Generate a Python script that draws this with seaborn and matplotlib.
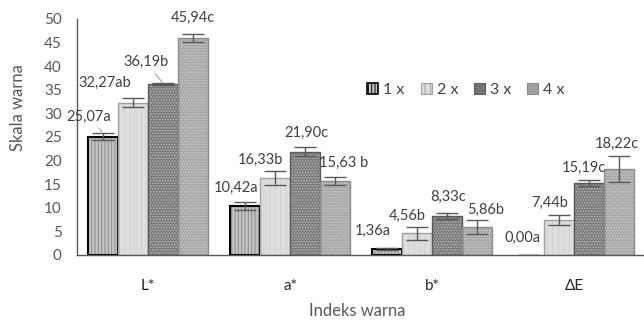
import matplotlib
matplotlib.use("Agg")
import matplotlib.pyplot as plt
from matplotlib.patches import Patch, Rectangle
import seaborn as sns
import pandas as pd
import numpy as np

# Colour indices and repetition levels
categories = ["L*", "a*", "b*", "ΔE"]
series = ["1 x", "2 x", "3 x", "4 x"]

# Mean values per repetition level (one list per level, ordered as categories)
values_1x = [25.07, 10.42, 1.36, 0.00]
values_2x = [32.27, 16.33, 4.56, 7.44]
values_3x = [36.19, 21.90, 8.33, 15.19]
values_4x = [45.94, 15.63, 5.86, 18.22]

# Standard deviations
err_1x = [0.8, 0.9, 0.2, 0.0]
err_2x = [1.0, 1.4, 1.3, 1.1]
err_3x = [0.2, 0.9, 0.6, 0.6]
err_4x = [0.9, 0.8, 1.5, 2.7]

# Data labels with significance letters
labels_1x = ["25,07a", "10,42a", "1,36a", "0,00a"]
labels_2x = ["32,27ab", "16,33b", "4,56b", "7,44b"]
labels_3x = ["36,19b", "21,90c", "8,33c", "15,19c"]
labels_4x = ["45,94c", "15,63 b", "5,86b", "18,22c"]

y_ticks = [0, 5, 10, 15, 20, 25, 30, 35, 40, 45, 50]

all_values = [values_1x, values_2x, values_3x, values_4x]
all_errs = [err_1x, err_2x, err_3x, err_4x]
all_labels = [labels_1x, labels_2x, labels_3x, labels_4x]

df = pd.DataFrame({
    "Indeks": np.tile(categories, len(series)),
    "Ulangan": np.repeat(series, len(categories)),
    "Nilai": np.concatenate(all_values),
})

# Fill / hatch / outline styles for each repetition level
faces = ["#c4c4c4", "#dedede", "#7a7a7a", "#a8a8a8"]
hatches = ["|||||", "|||", "......", "......"]
hatch_cols = ["#8a8a8a", "#cfcfcf", "#bdbdbd", "#cccccc"]
outlines = ["#000000", "#a0a0a0", "#595959", "#8c8c8c"]
outline_w = [1.5, 1.0, 1.0, 1.0]

# Label offsets (pixels) from the top of each error bar
label_offsets = [
    [(-14, 16), (-9, 14), (-14, 17), (-6, 17)],
    [(-28, 15), (-15, 11), (-10, 11), (-9, 12)],
    [(-17, 21), (1, 14), (1, 16), (-5, 13)],
    [(0, 16), (9, 15), (9, 10), (-2, 12)],
]
leader = {(0, 0), (2, 0)}

sns.set_style("white")
plt.rcParams["font.family"] = ["Lato", "DejaVu Sans"]
plt.rcParams["hatch.linewidth"] = 0.7

fig = plt.figure(figsize=(6.44, 3.22), dpi=100)
ax = fig.add_axes([77 / 644, 67 / 322, 568 / 644, 236 / 322])

sns.barplot(data=df, x="Indeks", y="Nilai", hue="Ulangan", order=categories,
            hue_order=series, palette=faces, width=0.845, gap=0,
            errorbar=None, legend=False, ax=ax, saturation=1)

bar_containers = list(ax.containers)
for j, cont in enumerate(bar_containers):
    xs = []
    for p in cont.patches:
        p.set_hatch(hatches[j])
        p.set_edgecolor(hatch_cols[j])
        p.set_linewidth(0)
        if p.get_height() > 0:
            ax.add_patch(Rectangle((p.get_x(), p.get_y()), p.get_width(), p.get_height(),
                                   fill=False, edgecolor=outlines[j],
                                   linewidth=outline_w[j], zorder=p.get_zorder() + 0.1))
        xs.append(p.get_x() + p.get_width() / 2)
    vals = np.array(all_values[j])
    errs = np.array(all_errs[j])
    ax.errorbar(xs, vals, yerr=errs, fmt="none", ecolor="#595959",
                elinewidth=1, capsize=8, capthick=1, zorder=5)
    for i, (x, v, e) in enumerate(zip(xs, vals, errs)):
        dx, dy = label_offsets[j][i]
        kw = {}
        if (j, i) in leader:
            kw["arrowprops"] = dict(arrowstyle="-", color="#a6a6a6", lw=0.8,
                                    shrinkA=1, shrinkB=1)
        ax.annotate(all_labels[j][i], xy=(x, v + e), xytext=(dx, dy),
                    textcoords="offset pixels", ha="center", va="center",
                    fontsize=10.5, color="#404040", **kw)

ax.set_ylim(0, 50)
ax.set_xlim(-0.5, 3.5)
ax.set_yticks(y_ticks)
ax.tick_params(axis="y", length=0, pad=11, labelsize=11, labelcolor="#595959")
ax.tick_params(axis="x", length=0, pad=17, labelsize=11, labelcolor="#262626")
ax.set_xlabel("")
ax.set_ylabel("")
for s in ["top", "right"]:
    ax.spines[s].set_visible(False)
for s in ["left", "bottom"]:
    ax.spines[s].set_color("#595959")
    ax.spines[s].set_linewidth(1.0)

fig.text(18 / 644, 1 - 108 / 322, "Skala warna", rotation=90, ha="center",
         va="center", fontsize=12, color="#595959")
fig.text(357 / 644, 1 - 311 / 322, "Indeks warna", ha="center", va="center",
         fontsize=12, color="#595959")

handles = [Patch(facecolor=faces[j], hatch=hatches[j], edgecolor=outlines[j],
                 linewidth=outline_w[j] * 0.8) for j in range(4)]
fig.legend(handles, series, loc="center", bbox_to_anchor=(466 / 644, 1 - 90 / 322),
           ncol=4, frameon=False, handlelength=0.7, handleheight=0.7,
           handletextpad=0.3, columnspacing=1.0, fontsize=11.5,
           labelcolor="#404040")

fig.savefig("out.png", dpi=100)
